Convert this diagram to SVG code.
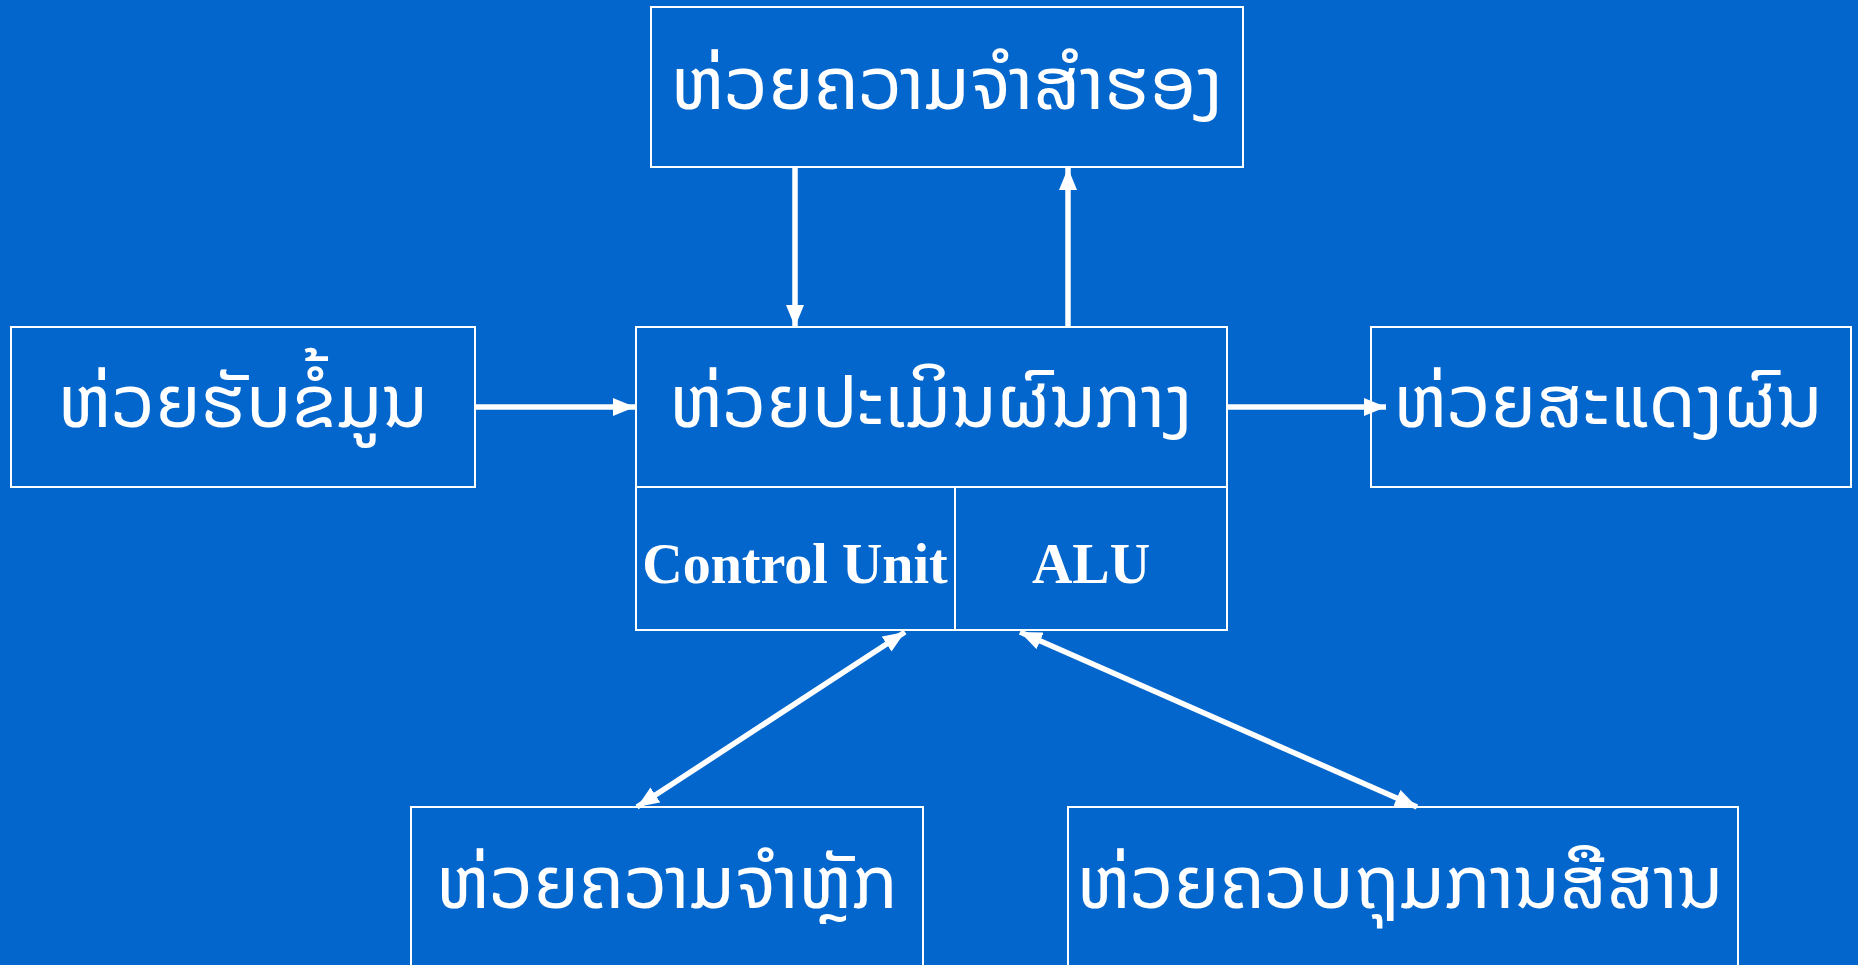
<svg xmlns="http://www.w3.org/2000/svg" width="1858" height="965" viewBox="0 0 1858 965">
<style>
.box{fill:none;stroke:#ffffff;stroke-width:2}
.lao{font-family:"Noto Sans Lao","DejaVu Sans","Noto Sans",sans-serif;font-size:74px;fill:#ffffff;text-anchor:middle}
.en{font-family:"Liberation Serif","Times New Roman",serif;font-weight:bold;font-size:56px;fill:#ffffff;text-anchor:middle}
.con{stroke:#ffffff;stroke-width:5.5;fill:none}
</style>
<defs>
<marker id="ah" viewBox="0 0 22 18" refX="22" refY="9" markerWidth="22" markerHeight="18" markerUnits="userSpaceOnUse" orient="auto-start-reverse">
<path d="M0,0 L22,9 L0,18 z" fill="#ffffff"/>
</marker>
</defs>
<rect x="0" y="0" width="1858" height="965" fill="#0366cc"/>
<g id="secondary-memory">
<rect class="box" x="651" y="7" width="592" height="160"/>
<text class="lao" x="947" y="109">ຫ່ວຍຄວາມຈຳສຳຮອງ</text>
</g>
<g id="input-unit">
<rect class="box" x="11" y="327" width="464" height="160"/>
<text class="lao" x="243" y="427">ຫ່ວຍຮັບຂໍ້ມູນ</text>
</g>
<g id="cpu">
<rect class="box" x="636" y="327" width="591" height="303"/>
<line class="box" x1="636" y1="487" x2="1227" y2="487"/>
<line class="box" x1="955" y1="487" x2="955" y2="630"/>
<text class="lao" x="931" y="427">ຫ່ວຍປະເມິນຜົນກາງ</text>
<text class="en" x="795" y="583">Control Unit</text>
<text class="en" x="1091" y="583">ALU</text>
</g>
<g id="output-unit">
<rect class="box" x="1371" y="327" width="480" height="160"/>
<text class="lao" x="1608" y="427">ຫ່ວຍສະແດງຜົນ</text>
</g>
<g id="main-memory">
<rect class="box" x="411" y="807" width="512" height="200"/>
<text class="lao" x="667" y="908">ຫ່ວຍຄວາມຈຳຫຼັກ</text>
</g>
<g id="comm-control">
<rect class="box" x="1068" y="807" width="670" height="200"/>
<text class="lao" x="1400" y="908">ຫ່ວຍຄວບຖຸມການສືສານ</text>
</g>
<g id="connectors">
<line class="con" x1="795" y1="167" x2="795" y2="327" marker-end="url(#ah)"/>
<line class="con" x1="1068" y1="327" x2="1068" y2="168" marker-end="url(#ah)"/>
<line class="con" x1="475" y1="407" x2="635" y2="407" marker-end="url(#ah)"/>
<line class="con" x1="1227" y1="407" x2="1386" y2="407" marker-end="url(#ah)"/>
<line class="con" x1="905" y1="632" x2="637" y2="807" marker-start="url(#ah)" marker-end="url(#ah)"/>
<line class="con" x1="1020" y1="632" x2="1417" y2="807" marker-start="url(#ah)" marker-end="url(#ah)"/>
</g>
</svg>
